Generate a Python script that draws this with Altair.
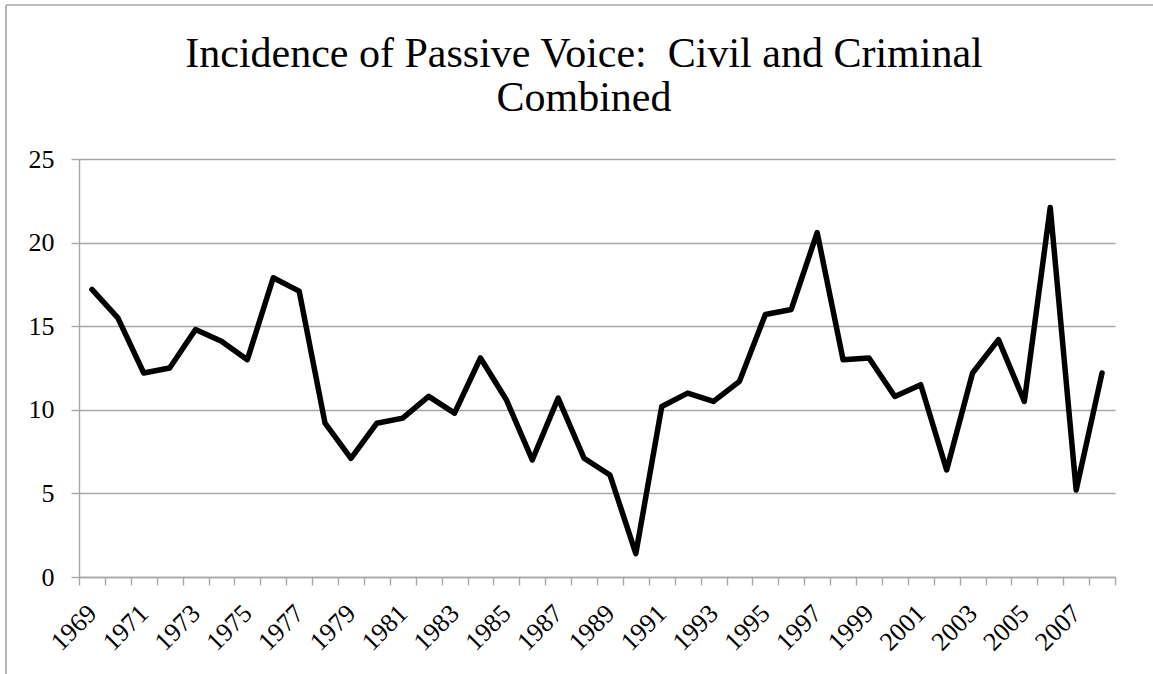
import altair as alt
import pandas as pd

# Share of sentences in passive voice, civil and criminal opinions combined
years = list(range(1969, 2009))
passive = [17.2, 15.5, 12.2, 12.5, 14.8, 14.1, 13.0, 17.9, 17.1, 9.2,
           7.1, 9.2, 9.5, 10.8, 9.8, 13.1, 10.6, 7.0, 10.7, 7.1,
           6.1, 1.4, 10.2, 11.0, 10.5, 11.7, 15.7, 16.0, 20.6, 13.0,
           13.1, 10.8, 11.5, 6.4, 12.2, 14.2, 10.5, 22.1, 5.2, 12.2]
y_ticks = [0, 5, 10, 15, 20, 25]
# category boundaries: ticks sit between years, labels on every other year
boundaries = [y - 0.5 for y in years] + [years[-1] + 0.5]
title_lines = ["Incidence of Passive Voice: \u00a0Civil and Criminal", "Combined"]

W, H = 1036, 418
GRAY = "#a6a6a6"
SERIF = "Liberation Serif"

df = pd.DataFrame({"year": years, "passive": passive})

x_enc = alt.X(
    "year:Q",
    scale=alt.Scale(domain=[boundaries[0], boundaries[-1]], nice=False, zero=False),
    axis=alt.Axis(
        values=boundaries,
        labelExpr="floor(datum.value) % 2 == 0 && datum.value < 2008 ? toString(datum.value + 0.5) : ''",
        labelOffset=W / len(years) / 2,
        labelAngle=-45,
        labelAlign="right",
        labelBaseline="middle",
        labelOverlap=False,
        labelFlush=False,
        labelPadding=24,
        tickSize=8,
        grid=False,
        title=None,
    ),
)
y_enc = alt.Y(
    "passive:Q",
    scale=alt.Scale(domain=[0, 25], nice=False),
    axis=alt.Axis(values=y_ticks, grid=True, tickSize=8, labelPadding=17, title=None),
)

line = alt.Chart(df).mark_line(
    color="black", strokeWidth=5.5, strokeJoin="round", strokeCap="round"
).encode(x=x_enc, y=y_enc)

# chart-area frame (top and left edges)
frame_df = pd.DataFrame({"k": [0]})
frame_left = alt.Chart(frame_df).mark_rule(color=GRAY, strokeWidth=1.6).encode(
    x=alt.value(-73), y=alt.value(-154), y2=alt.value(H + 120)
)
frame_top = alt.Chart(frame_df).mark_rule(color=GRAY, strokeWidth=1.6).encode(
    x=alt.value(-73), x2=alt.value(W + 60), y=alt.value(-154)
)

chart = (
    alt.layer(line, frame_left, frame_top)
    .properties(
        width=W,
        height=H,
        autosize=alt.AutoSizeParams(type="none"),
        padding={"left": 79, "top": 159, "right": 38, "bottom": 97},
        title=alt.TitleParams(
            text=title_lines,
            font=SERIF,
            fontSize=42,
            fontWeight="normal",
            color="black",
            lineHeight=44,
            baseline="alphabetic",
            anchor="middle",
            frame="group",
            dx=-13,
            offset=-149,
        ),
    )
    .configure_view(stroke=None)
    .configure_axis(
        domainColor=GRAY,
        domainWidth=1.4,
        tickColor=GRAY,
        tickWidth=1.4,
        gridColor=GRAY,
        gridWidth=1.4,
        labelFont=SERIF,
        labelFontSize=26,
        labelColor="black",
    )
)

chart.save("out.html", embed_options={"renderer": "svg", "actions": False})
